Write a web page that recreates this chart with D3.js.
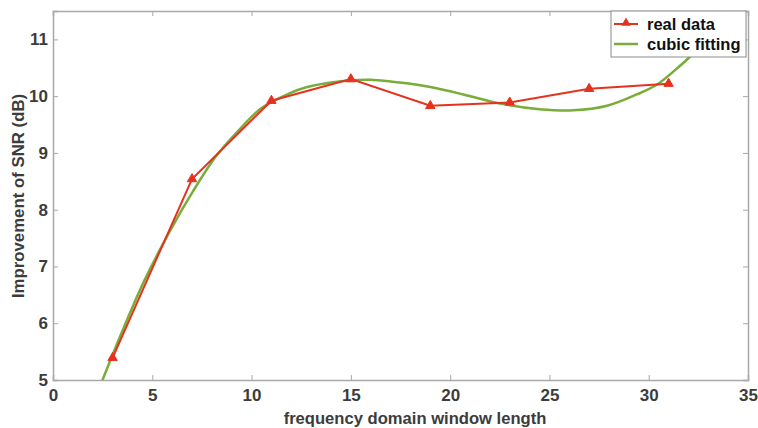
<!DOCTYPE html>
<html><head><meta charset="utf-8">
<script src="https://cdn.jsdelivr.net/npm/d3@7"></script>
<style>
html,body{margin:0;padding:0;background:#fff;}
text{font-family:"Liberation Sans",Arial,sans-serif;font-weight:bold;}
</style></head>
<body><svg id="c" width="758" height="428"></svg>
<script>
const realX = [3, 7, 11, 15, 19, 23, 27, 31];
const realY = [5.39, 8.54, 9.92, 10.30, 9.83, 9.89, 10.13, 10.22];
const fitX = [2.45, 3.3, 4.6, 5.9, 7.06, 8.16, 9.33, 10.5, 11.85, 12.8, 14.0, 15.0, 16.0, 17.0, 18.0, 19.0, 20.66, 22.67, 24.5, 26.2, 27.9, 29.4, 30.4, 31.4, 32.1, 33.0, 34.0];
const fitY = [4.96, 5.70, 6.75, 7.63, 8.33, 8.92, 9.39, 9.79, 10.04, 10.16, 10.24, 10.28, 10.29, 10.26, 10.22, 10.16, 10.03, 9.86, 9.77, 9.75, 9.83, 10.03, 10.20, 10.48, 10.70, 11.0, 11.4];
const xTicks = [0, 5, 10, 15, 20, 25, 30, 35];
const yTicks = [5, 6, 7, 8, 9, 10, 11];
const legendLabels = ["real data", "cubic fitting"];

const svg = d3.select("#c");
const L = 53, R = 748, T = 11, B = 380;
const x = d3.scaleLinear().domain([0, 35]).range([L, R]);
const y = d3.scaleLinear().domain([5, 11.5]).range([B, T]);
const axisCol = "#a8a8a8", textCol = "#3c3c3c";
const red = "#e5321f", green = "#78ad3a";

svg.append("defs").append("clipPath").attr("id", "clip")
  .append("rect").attr("x", L).attr("y", T).attr("width", R - L).attr("height", B - T);

// axes
const gx = svg.append("g").attr("transform", `translate(0,${B})`)
  .call(d3.axisBottom(x).tickValues(xTicks).tickSize(-5).tickPadding(7).tickFormat(d3.format("d")));
const gxt = svg.append("g").attr("transform", `translate(0,${T})`)
  .call(d3.axisTop(x).tickValues(xTicks).tickSize(-5).tickFormat(""));
const gy = svg.append("g").attr("transform", `translate(${L},0)`)
  .call(d3.axisLeft(y).tickValues(yTicks).tickSize(-5).tickPadding(5).tickFormat(d3.format("d")));
const gyr = svg.append("g").attr("transform", `translate(${R},0)`)
  .call(d3.axisRight(y).tickValues(yTicks).tickSize(-5).tickFormat(""));
[gx, gxt, gy, gyr].forEach(g => {
  g.selectAll("path.domain").attr("stroke", axisCol).attr("stroke-width", 1.5);
  g.selectAll(".tick line").attr("stroke", axisCol).attr("stroke-width", 1);
  g.selectAll(".tick text").attr("fill", textCol).attr("font-size", "17px")
    .attr("font-family", "Liberation Sans, Arial, sans-serif").attr("font-weight", "bold");
});
gx.selectAll(".tick text").attr("dy", "0.8em");

// labels
svg.append("text").attr("x", 415).attr("y", 424).attr("text-anchor", "middle")
  .attr("fill", textCol).attr("font-size", "16.6px").text("frequency domain window length");
svg.append("text").attr("transform", `translate(24,196) rotate(-90)`).attr("text-anchor", "middle")
  .attr("fill", textCol).attr("font-size", "16.8px").text("Improvement of SNR (dB)");

const plot = svg.append("g").attr("clip-path", "url(#clip)");
const fitData = fitX.map((v, i) => [v, fitY[i]]);
plot.append("path").datum(fitData)
  .attr("fill", "none").attr("stroke", green).attr("stroke-width", 2.5)
  .attr("d", d3.line().x(d => x(d[0])).y(d => y(d[1])).curve(d3.curveCatmullRom.alpha(0.5)));

const realData = realX.map((v, i) => [v, realY[i]]);
plot.append("path").datum(realData)
  .attr("fill", "none").attr("stroke", red).attr("stroke-width", 2)
  .attr("d", d3.line().x(d => x(d[0])).y(d => y(d[1])));
const tri = d3.symbol().type(d3.symbolTriangle).size(38);
plot.selectAll("path.mk").data(realData).enter().append("path").attr("class", "mk")
  .attr("transform", d => `translate(${x(d[0])},${y(d[1])})`)
  .attr("d", tri).attr("fill", red).attr("stroke", red).attr("stroke-width", 1);

// legend
const lg = svg.append("g");
lg.append("rect").attr("x", 611).attr("y", 11).attr("width", 135).attr("height", 46)
  .attr("fill", "#fff").attr("stroke", "#8a8a8a").attr("stroke-width", 1);
lg.append("line").attr("x1", 614).attr("x2", 638).attr("y1", 24).attr("y2", 24)
  .attr("stroke", red).attr("stroke-width", 2);
lg.append("path").attr("transform", "translate(626,23)").attr("d", tri).attr("fill", red);
lg.append("line").attr("x1", 614).attr("x2", 638).attr("y1", 44).attr("y2", 44)
  .attr("stroke", green).attr("stroke-width", 2.5);
lg.selectAll("text.lt").data(legendLabels).enter().append("text").attr("class", "lt")
  .attr("x", 647).attr("y", (d, i) => 30 + i * 20).attr("fill", "#111").attr("font-size", "16.5px").text(d => d);
</script></body></html>
